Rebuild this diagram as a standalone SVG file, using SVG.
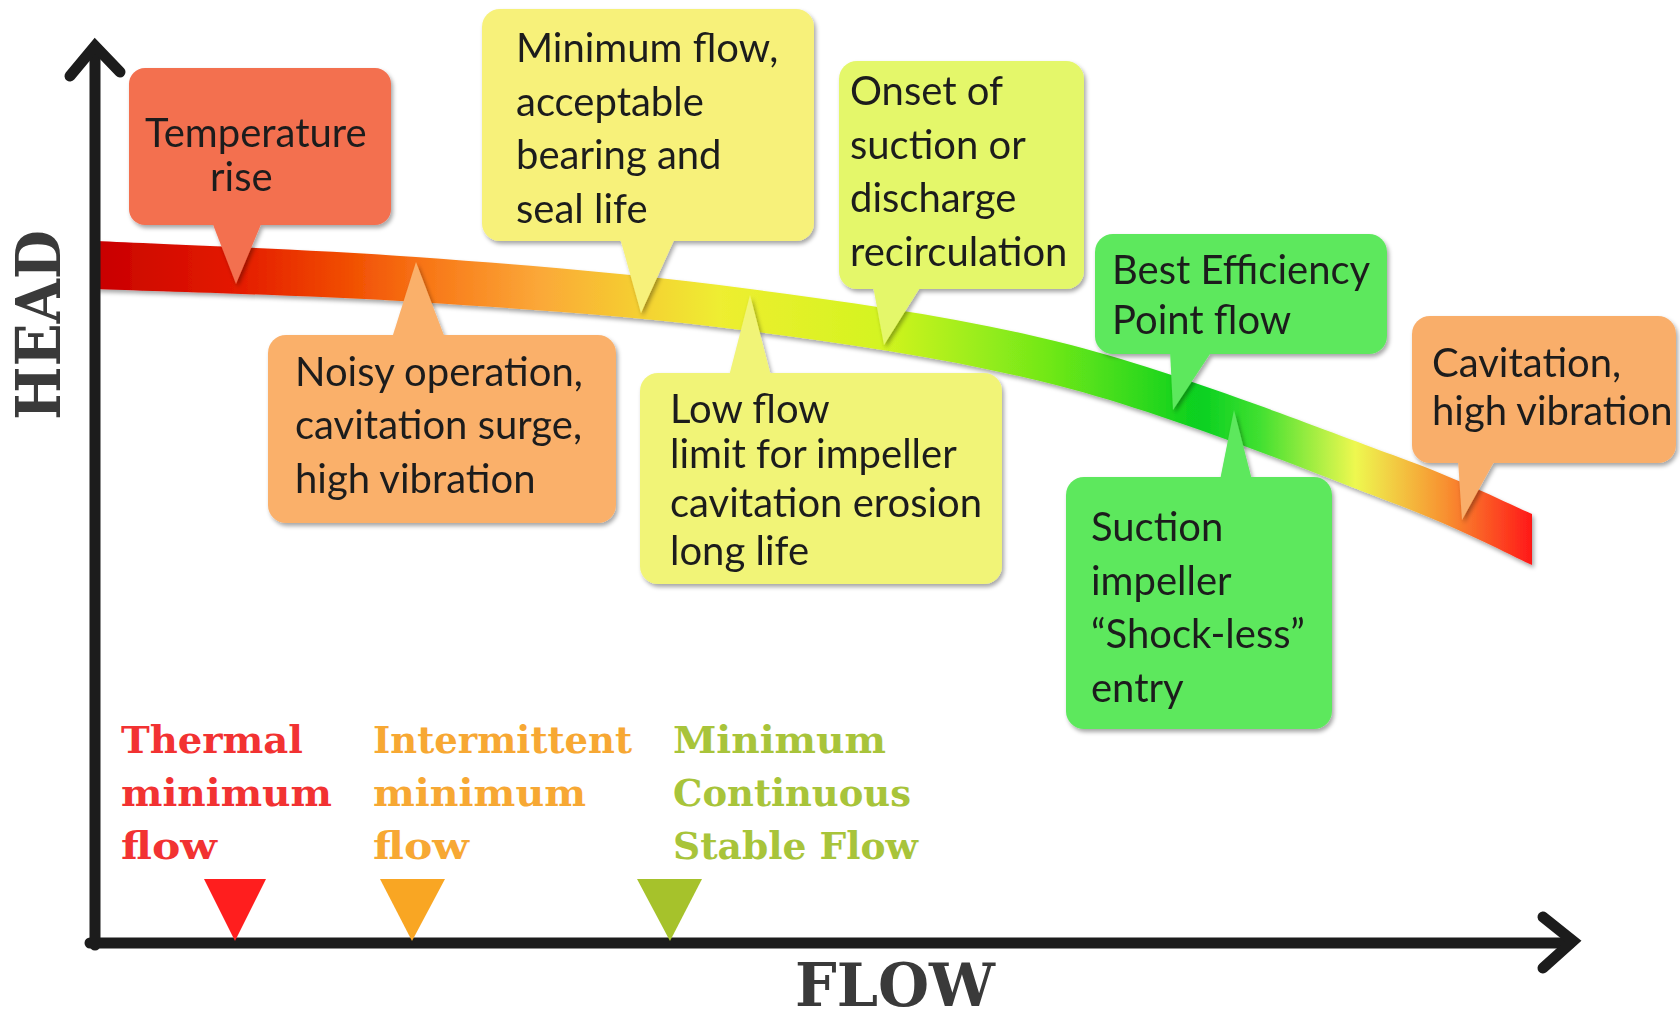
<svg xmlns="http://www.w3.org/2000/svg" width="1680" height="1022" viewBox="0 0 1680 1022">
<defs>
<linearGradient id="bandGrad" gradientUnits="userSpaceOnUse" x1="96" y1="0" x2="1532" y2="0">
<stop offset="0" stop-color="#C80000"/>
<stop offset="0.097" stop-color="#E41A00"/>
<stop offset="0.17" stop-color="#F04A00"/>
<stop offset="0.233" stop-color="#F87818"/>
<stop offset="0.309" stop-color="#FBA838"/>
<stop offset="0.379" stop-color="#F5D030"/>
<stop offset="0.435" stop-color="#EEEE30"/>
<stop offset="0.546" stop-color="#D4F420"/>
<stop offset="0.664" stop-color="#70E818"/>
<stop offset="0.769" stop-color="#08D020"/>
<stop offset="0.81" stop-color="#40E030"/>
<stop offset="0.877" stop-color="#EEF850"/>
<stop offset="0.94" stop-color="#F89030"/>
<stop offset="1" stop-color="#FF1818"/>
</linearGradient>
<filter id="shadow" x="-10%" y="-10%" width="130%" height="130%">
<feDropShadow dx="2" dy="3" stdDeviation="2" flood-color="#000" flood-opacity="0.35"/>
</filter>
</defs>
<style>
.box text{font-family:Lato,"Open Sans","Liberation Sans",sans-serif;font-size:40px;fill:#1e1e1e}
.slab{font-family:"DejaVu Serif","Liberation Serif",serif;font-weight:bold;font-size:38px}
.axis{fill:none;stroke:#1c1c1c;stroke-width:11;stroke-linecap:round;stroke-linejoin:miter}
.big{font-family:"DejaVu Serif","Liberation Serif",serif;font-weight:bold;fill:#3a3a3a}
</style>

<g id="curve" filter="url(#shadow)">
<path fill="url(#bandGrad)" d="M96,241 C149.3,243.7 307,249 416,257 C525,265 640.8,274.3 750,289 C859.2,303.7 963.8,317.3 1071,345 C1178.2,372.7 1316.2,426.8 1393,455 C1469.8,483.2 1508.8,504.2 1532,514 L1532,565 C1508.8,554.7 1469.8,532.3 1393,503 C1316.2,473.7 1178.2,417.7 1071,389 C963.8,360.3 859.2,345.5 750,331 C640.8,316.5 525,309 416,302 C307,295 149.3,291.2 96,289 Z"/>
</g>

<g id="axes">
<path class="axis" d="M95,945 L95,50"/>
<path class="axis" d="M70,76 L95,46 L120,72"/>
<path class="axis" d="M90,943 L1570,943"/>
<path class="axis" d="M1543,917 L1573,941 L1543,968"/>
<text class="big" font-size="62" transform="translate(60,325) rotate(-90)" text-anchor="middle" textLength="190" lengthAdjust="spacingAndGlyphs">HEAD</text>
<text class="big" font-size="60" x="795" y="1006" textLength="200" lengthAdjust="spacingAndGlyphs">FLOW</text>
</g>

<g id="temperature-rise" class="box" filter="url(#shadow)">
<rect x="129" y="68" width="262" height="157" rx="16" fill="#F36F50"/>
<polygon points="212,222 262,222 236,284" fill="#F36F50"/>
<text x="145" y="147">Temperature</text>
<text x="210" y="191">rise</text>
</g>

<g id="noisy-operation" class="box" filter="url(#shadow)">
<rect x="268" y="335" width="348" height="188" rx="18" fill="#FAB06B"/>
<polygon points="392,338 445,338 416,262" fill="#FAB06B"/>
<text x="295" y="386">Noisy operation,</text>
<text x="295" y="439">cavitation surge,</text>
<text x="295" y="493">high vibration</text>
</g>

<g id="minimum-flow" class="box" filter="url(#shadow)">
<rect x="482" y="9" width="332" height="232" rx="18" fill="#F7F17A"/>
<polygon points="620,238 675,238 641,313" fill="#F7F17A"/>
<text x="516" y="62">Minimum flow,</text>
<text x="516" y="116">acceptable</text>
<text x="516" y="169">bearing and</text>
<text x="516" y="223">seal life</text>
</g>

<g id="onset-recirculation" class="box" filter="url(#shadow)">
<rect x="839" y="61" width="245" height="228" rx="18" fill="#E4F76A"/>
<polygon points="873,286 921,286 884,345" fill="#E4F76A"/>
<text x="850" y="105">Onset of</text>
<text x="850" y="159">suction or</text>
<text x="850" y="212">discharge</text>
<text x="850" y="266">recirculation</text>
</g>

<g id="low-flow" class="box" filter="url(#shadow)">
<rect x="640" y="373" width="362" height="211" rx="18" fill="#F1F477"/>
<polygon points="729,376 771,376 750,295" fill="#F1F477"/>
<text x="670" y="423" font-size="38">Low flow</text>
<text x="670" y="468" font-size="38">limit for impeller</text>
<text x="670" y="517" font-size="38">cavitation erosion</text>
<text x="670" y="565" font-size="38">long life</text>
</g>

<g id="best-efficiency-point" class="box" filter="url(#shadow)">
<rect x="1095" y="234" width="292" height="120" rx="18" fill="#5DE85D"/>
<polygon points="1170,351 1212,351 1173,410" fill="#5DE85D"/>
<text x="1112" y="284">Best Efficiency</text>
<text x="1112" y="334">Point flow</text>
</g>

<g id="suction-impeller" class="box" filter="url(#shadow)">
<rect x="1066" y="477" width="266" height="252" rx="18" fill="#5DE85D"/>
<polygon points="1220,480 1252,480 1234,410" fill="#5DE85D"/>
<text x="1091" y="541">Suction</text>
<text x="1091" y="595">impeller</text>
<text x="1091" y="648">“Shock-less”</text>
<text x="1091" y="702">entry</text>
</g>

<g id="cavitation" class="box" filter="url(#shadow)">
<rect x="1412" y="316" width="264" height="147" rx="18" fill="#F9AE6A"/>
<polygon points="1458,460 1495,460 1462,520" fill="#F9AE6A"/>
<text x="1432" y="377">Cavitation,</text>
<text x="1432" y="425">high vibration</text>
</g>

<g id="thermal-minimum-flow">
<text class="slab" x="121" y="753" fill="#F23232" textLength="182" lengthAdjust="spacingAndGlyphs">Thermal</text>
<text class="slab" x="121" y="806" fill="#F23232" textLength="211" lengthAdjust="spacingAndGlyphs">minimum</text>
<text class="slab" x="121" y="859" fill="#F23232" textLength="96" lengthAdjust="spacingAndGlyphs">flow</text>
<polygon points="204,879 266,879 235,941" fill="#FF1E1E"/>
</g>

<g id="intermittent-minimum-flow">
<text class="slab" x="373" y="753" fill="#F7A833" textLength="259" lengthAdjust="spacingAndGlyphs">Intermittent</text>
<text class="slab" x="373" y="806" fill="#F7A833" textLength="213" lengthAdjust="spacingAndGlyphs">minimum</text>
<text class="slab" x="373" y="859" fill="#F7A833" textLength="96" lengthAdjust="spacingAndGlyphs">flow</text>
<polygon points="380,879 445,879 412,941" fill="#F9A623"/>
</g>

<g id="minimum-continuous-stable-flow">
<text class="slab" x="673" y="753" fill="#A8C43A" textLength="213" lengthAdjust="spacingAndGlyphs">Minimum</text>
<text class="slab" x="673" y="806" fill="#A8C43A" textLength="238" lengthAdjust="spacingAndGlyphs">Continuous</text>
<text class="slab" x="673" y="859" fill="#A8C43A" textLength="245" lengthAdjust="spacingAndGlyphs">Stable Flow</text>
<polygon points="637,879 702,879 670,941" fill="#A6C22B"/>
</g>
</svg>
